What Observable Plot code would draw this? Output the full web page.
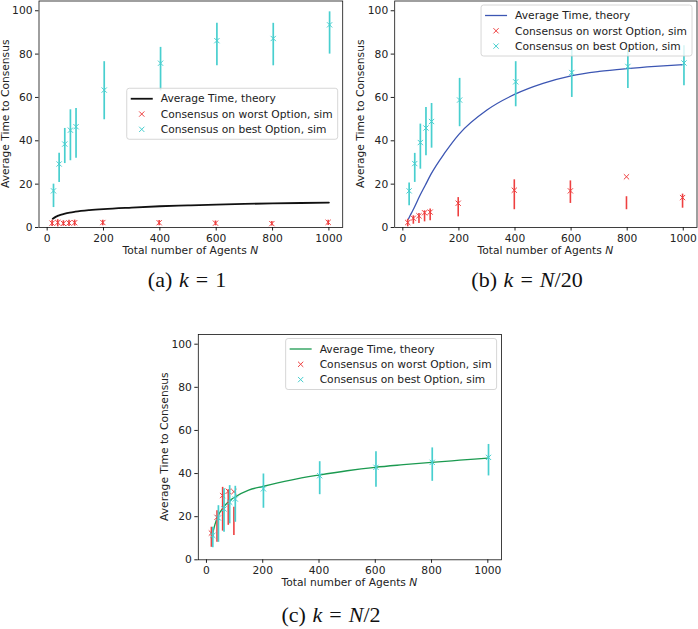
<!DOCTYPE html>
<html>
<head>
<meta charset="utf-8">
<script src="https://cdn.jsdelivr.net/npm/d3@7"></script>
<script src="https://cdn.jsdelivr.net/npm/@observablehq/plot@0.6"></script>
<style>
  html, body { margin: 0; padding: 0; background: #fff; }
  #fig { position: relative; width: 698px; height: 629px; overflow: hidden; }
  .panel { position: absolute; }
  .caption { position: absolute; font-family: "Liberation Serif", "DejaVu Serif", serif; font-size: 22px; color: #111;
             transform: translate(-50%, -50%); white-space: nowrap; }
  .caption .rel { margin: 0 0.32em; }
  .caption .lbl { margin-right: 0.3em; }
</style>
</head>
<body>
<div id="fig">
  <div class="caption" style="left:187px; top:280px"><span class="lbl">(a)</span><i>k</i><span class="rel">=</span>1</div>
  <div class="caption" style="left:527px; top:280px"><span class="lbl">(b)</span><i>k</i><span class="rel">=</span><i>N</i>/20</div>
  <div class="caption" style="left:331px; top:615px"><span class="lbl">(c)</span><i>k</i><span class="rel">=</span><i>N</i>/2</div>
</div>
<script>
// ---- data -------------------------------------------------------------
// Total number of agents used in the simulations
const agentsN = [20, 40, 60, 80, 100, 200, 400, 600, 800, 1000];
// In panel (c) the worst option only wins for the small groups
const agentsNWorstC = [20, 40, 60, 80, 100];
// Sample points of the theoretical curves
const theoryN = [20, 30, 40, 60, 80, 100, 150, 200, 300, 400, 500, 600, 700, 800, 900, 1000];

const xTicks = [0, 200, 400, 600, 800, 1000];
const yTicks = [0, 20, 40, 60, 80, 100];
const legendLabels = ["Average Time, theory", "Consensus on worst Option, sim", "Consensus on best Option, sim"];

// (a) k = 1
const theoryA   = [4.0, 4.9, 5.5, 6.3, 6.9, 7.3, 8.0, 8.5, 9.2, 9.8, 10.2, 10.6, 10.9, 11.1, 11.3, 11.5];
const worstA     = [2.0, 2.3, 1.9, 2.1, 2.2, 2.3, 2.2, 2.0, 1.8, 2.4];
const worstALow  = [0.5, 0.3, 0.6, 0.5, 0.6, 0.8, 0.8, 0.8, 0.7, 0.9];
const worstAHigh = [3.3, 3.6, 3.1, 3.4, 3.4, 3.4, 3.2, 3.0, 2.8, 3.4];
const bestA      = [16.9, 29.3, 38.5, 44.9, 46.5, 63.4, 75.8, 86.2, 87.2, 93.5];
const bestALow   = [9.2, 20.8, 29.5, 30.8, 32.0, 49.7, 63.0, 74.6, 74.6, 80.0];
const bestAHigh  = [20.0, 34.2, 45.7, 54.3, 54.9, 76.5, 83.1, 94.2, 94.2, 99.5];

// (b) k = N/20
const theoryB   = [3.9, 6.5, 9.0, 14.5, 19.5, 24.5, 34.5, 43.0, 54.2, 61.5, 66.5, 70.0, 72.0, 73.3, 74.3, 75.1];
const worstB     = [2.3, 4.3, 5.4, 6.8, 7.1, 11.2, 17.2, 16.9, 23.4, 13.8];
const worstBLow  = [0.3, 1.5, 1.8, 2.6, 3.1, 4.9, 8.2, 11.1, 8.2, 8.9];
const worstBHigh = [3.8, 5.4, 6.5, 7.7, 8.5, 13.8, 22.0, 21.5, 14.2, 15.4];
const bestB      = [16.9, 29.5, 39.2, 45.9, 48.9, 58.8, 67.2, 71.5, 74.3, 75.9];
const bestBLow   = [10.0, 20.8, 26.9, 33.1, 36.6, 46.5, 55.7, 60.0, 64.1, 65.4];
const bestBHigh  = [20.5, 34.2, 47.7, 55.4, 57.2, 68.8, 76.5, 82.0, 82.0, 83.8];

// (c) k = N/2
const theoryC   = [10.8, 16.3, 20.0, 24.3, 27.2, 29.0, 32.3, 34.0, 37.0, 39.3, 41.3, 42.9, 44.1, 45.2, 46.2, 47.2];
const worstC     = [12.4, 19.7, 29.8, 31.8, 31.6];
const worstCLow  = [5.8, 8.1, 13.3, 16.0, 11.3];
const worstCHigh = [15.1, 22.8, 33.6, 32.5, 24.4];
const bestC      = [11.3, 19.4, 23.6, 26.7, 28.2, 32.9, 39.0, 42.9, 45.2, 47.5];
const bestCLow   = [5.6, 8.1, 12.8, 16.7, 17.4, 23.9, 30.2, 33.6, 36.4, 38.9];
const bestCHigh  = [15.1, 25.1, 32.9, 34.4, 34.1, 39.8, 45.5, 50.1, 51.9, 53.5];

// ---- styling ----------------------------------------------------------
const RED = "#ee4040";
const CYAN = "#48cfcf";
const FONT = "'DejaVu Sans', sans-serif";
const FS = 10.7;

const panels = [
  { left: 0,   top: 0,   width: 349, height: 262, margins: [0.5, 6.8, 35, 38.5], line: "#111111", lineWidth: 1.8,
    legend: "right", theory: theoryA, worstN: agentsN, worst: worstA, worstLow: worstALow, worstHigh: worstAHigh,
    best: bestA, bestLow: bestALow, bestHigh: bestAHigh },
  { left: 350, top: 0,   width: 348, height: 262, margins: [0.5, 1.5, 35, 44.2], line: "#3c56b3", lineWidth: 1.3,
    legend: "top", theory: theoryB, worstN: agentsN, worst: worstB, worstLow: worstBLow, worstHigh: worstBHigh,
    best: bestB, bestLow: bestBLow, bestHigh: bestBHigh },
  { left: 150, top: 320, width: 360, height: 280, margins: [14, 8.9, 40.7, 47.8], line: "#1b9a50", lineWidth: 1.3,
    legend: "top", theory: theoryC, worstN: agentsNWorstC, worst: worstC, worstLow: worstCLow, worstHigh: worstCHigh,
    best: bestC, bestLow: bestCLow, bestHigh: bestCHigh }
];

const fig = document.getElementById("fig");

function rows(xs, v, lo, hi) {
  return xs.map((n, i) => ({ n, v: v[i], lo: lo[i], hi: hi[i] }));
}

function drawPanel(p) {
  const worst = rows(p.worstN, p.worst, p.worstLow, p.worstHigh);
  const best = rows(agentsN, p.best, p.bestLow, p.bestHigh);
  const theory = theoryN.map((n, i) => ({ n, v: p.theory[i] }));
  const [mt, mr, mb, ml] = p.margins;

  const svg = Plot.plot({
    width: p.width,
    height: p.height,
    marginTop: mt, marginRight: mr, marginBottom: mb, marginLeft: ml,
    style: { fontFamily: FONT, fontSize: FS + "px", color: "#222", background: "transparent", overflow: "visible" },
    x: { domain: [-29, 1049], ticks: xTicks, tickFormat: "d", tickSize: 3.5, tickPadding: 3, label: null },
    y: { domain: [0, 104.5], ticks: yTicks, tickFormat: "d", tickSize: 3.5, tickPadding: 3, label: null },
    marks: [
      Plot.line(theory, { x: "n", y: "v", stroke: p.line, strokeWidth: p.lineWidth, curve: "monotone-x" }),
      Plot.ruleX(worst, { x: "n", y1: "lo", y2: "hi", stroke: RED, strokeWidth: 1.6, dx: -0.7 }),
      Plot.dot(worst, { x: "n", y: "v", symbol: "times", r: 2.5, stroke: RED, strokeWidth: 1, dx: -0.7 }),
      Plot.ruleX(best, { x: "n", y1: "lo", y2: "hi", stroke: CYAN, strokeWidth: 1.7, dx: 0.7 }),
      Plot.dot(best, { x: "n", y: "v", symbol: "times", r: 2.5, stroke: CYAN, strokeWidth: 1, dx: 0.7 }),
      Plot.frame({ stroke: "#111", strokeWidth: 0.8 })
    ]
  });

  const wrap = document.createElement("div");
  wrap.className = "panel";
  wrap.style.left = p.left + "px";
  wrap.style.top = p.top + "px";
  wrap.appendChild(svg);
  fig.appendChild(wrap);

  const [fx0, fx1] = svg.scale("x").range;
  const [fy1, fy0] = svg.scale("y").range; // bottom, top
  const s = d3.select(svg);

  // axis titles
  const xl = s.append("text")
    .attr("x", (fx0 + fx1) / 2).attr("y", fy1 + 23).attr("dy", "0.35em")
    .attr("text-anchor", "middle").attr("fill", "#222")
    .attr("font-family", FONT).attr("font-size", FS);
  xl.append("tspan").text("Total number of Agents ");
  xl.append("tspan").attr("font-style", "italic").text("N");

  s.append("text")
    .attr("transform", `translate(${fx0 - 33.5},${(fy0 + fy1) / 2}) rotate(-90)`)
    .attr("dy", "0.35em").attr("text-anchor", "middle").attr("fill", "#222")
    .attr("font-family", FONT).attr("font-size", FS)
    .text("Average Time to Consensus");

  // legend
  const g = s.append("g").attr("font-family", FONT).attr("font-size", FS).attr("text-anchor", "start");
  const box = g.append("rect");
  const texts = legendLabels.map(t =>
    g.append("text").attr("fill", "#222").attr("dy", "0.35em").attr("text-anchor", "start").text(t));
  const textW = d3.max(texts, t => t.node().getComputedTextLength());
  const w = 34 + textW + 5, h = 51, inset = 4.5;
  const left = fx1 - inset - w;
  const top = p.legend === "right" ? (fy0 + fy1) / 2 - h / 2 : fy0 + inset;
  box.attr("x", left).attr("y", top).attr("width", w).attr("height", h).attr("rx", 2.5)
    .attr("fill", "white").attr("fill-opacity", 0.8).attr("stroke", "#cccccc").attr("stroke-width", 0.8);
  const rowY = i => top + 10.5 + i * 15.3;
  texts.forEach((t, i) => t.attr("x", left + 34).attr("y", rowY(i)));
  g.append("line").attr("x1", left + 4).attr("x2", left + 26).attr("y1", rowY(0)).attr("y2", rowY(0))
    .attr("stroke", p.line).attr("stroke-width", p.lineWidth);
  const sym = d3.symbol(d3.symbolTimes, Math.PI * 2.5 * 2.5);
  [[RED, 1], [CYAN, 2]].forEach(([c, i]) =>
    g.append("path").attr("d", sym()).attr("transform", `translate(${left + 15},${rowY(i)})`)
      .attr("fill", "none").attr("stroke", c).attr("stroke-width", 1));
}

panels.forEach(drawPanel);
</script>
</body>
</html>
